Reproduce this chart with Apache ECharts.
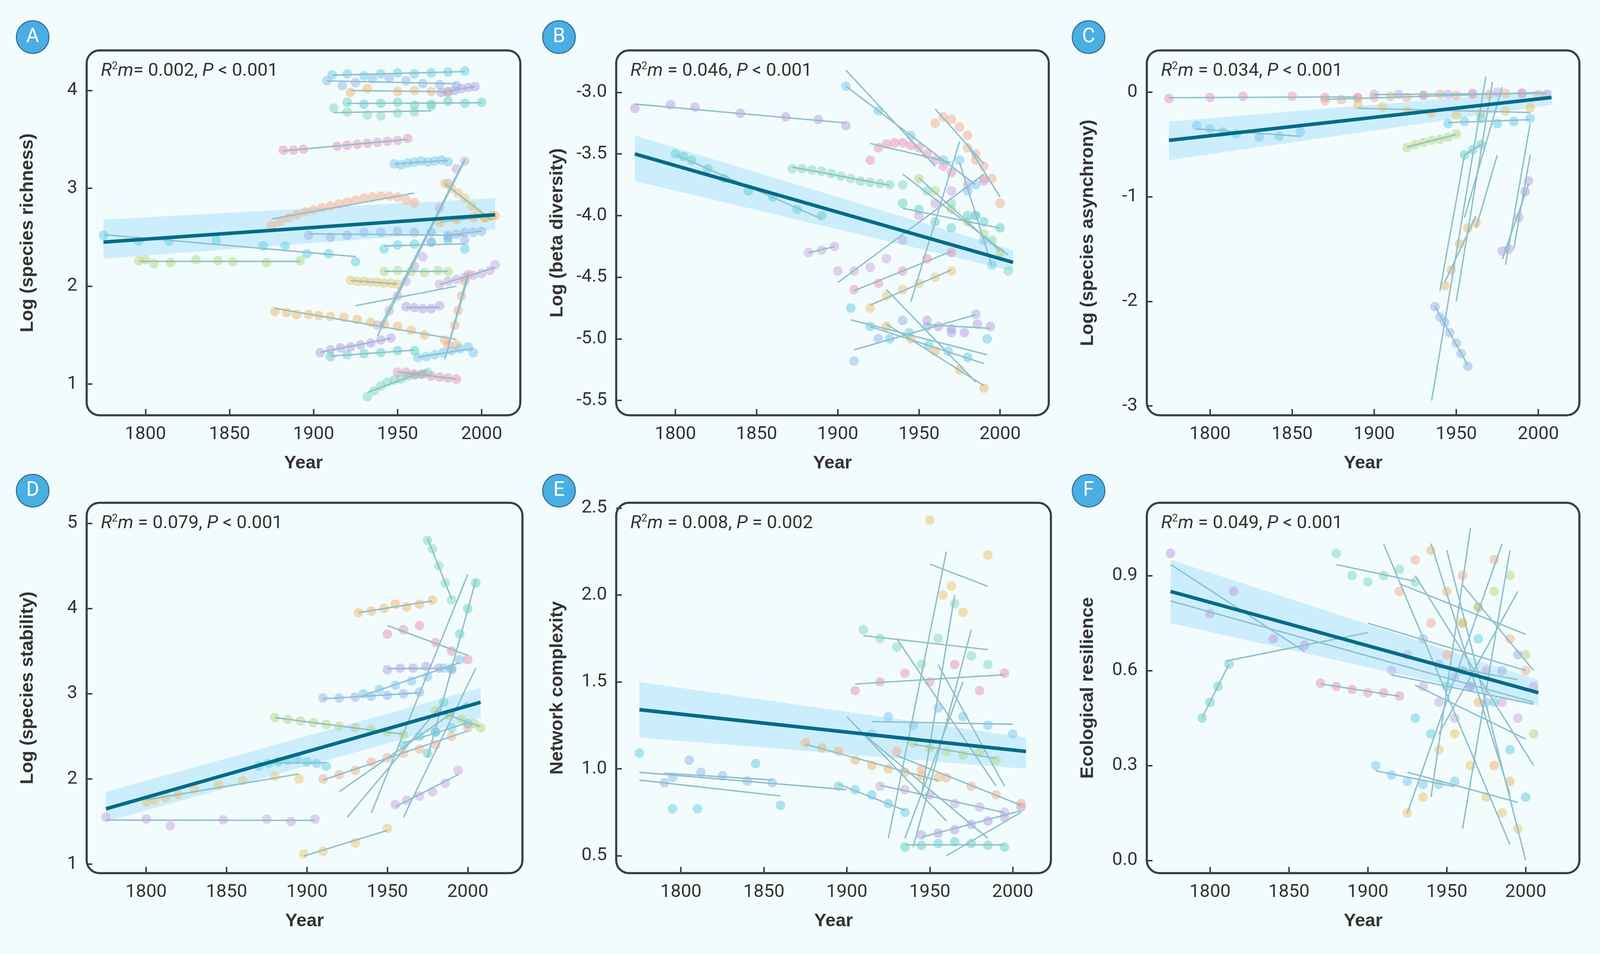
<!DOCTYPE html>
<html><head><meta charset="utf-8">
<script src="https://cdn.jsdelivr.net/npm/echarts@6/dist/echarts.min.js"></script>
<style>html,body{margin:0;background:#f3fcfd;overflow:hidden}#main{width:100vw;height:100vh}</style>
</head><body><div id="main"></div>
<script>
// ---- data: groups are [years, values]; extra lines are [x1,y1,x2,y2]
var groupsA = [
  [[1911,1920,1930,1940,1950,1960,1970,1980,1990],[4.16,4.17,4.15,4.17,4.18,4.17,4.18,4.19,4.2]],
  [[1908,1917,1925,1935,1945,1955,1965,1975,1985],[4.1,4.05,4.08,4.12,4.13,4.1,4.07,4.06,4.05]],
  [[1922,1932,1950,1960,1970,1980],[3.98,4.02,3.99,4.0,3.99,3.98]],
  [[1976,1980,1984,1988,1992,1996],[3.98,3.99,4.0,4.02,4.03,4.04]],
  [[1920,1930,1940,1950,1960,1970,1980,1990,2000],[3.88,3.86,3.87,3.88,3.85,3.86,3.89,3.87,3.88]],
  [[1912,1920,1932,1940,1950,1960,1970],[3.82,3.78,3.75,3.74,3.77,3.78,3.84]],
  [[1882,1888,1894,1914,1920,1926,1932,1938,1944,1950,1956],[3.39,3.39,3.4,3.43,3.44,3.45,3.46,3.47,3.48,3.49,3.51]],
  [[1948,1952,1956,1960,1964,1968,1972,1976,1980],[3.25,3.24,3.26,3.27,3.28,3.27,3.28,3.29,3.27]],
  [[1875,1880,1885,1890,1895,1900,1905,1910,1915,1920,1925,1930,1935,1940,1945,1950,1955,1960],[2.62,2.66,2.7,2.73,2.76,2.78,2.8,2.82,2.84,2.86,2.88,2.9,2.91,2.92,2.92,2.91,2.88,2.85]],
  [[1938,1945,1950,1955,1960,1965,1970,1975,1980,1985,1990],[1.6,1.75,1.9,2.05,2.2,2.3,2.45,2.8,3.05,3.2,3.28]],
  [[1978,1982,1986,1990,1994,1998,2002,2006],[3.05,3.0,2.95,2.9,2.82,2.75,2.7,2.72]],
  [[1796,1800,1805,1815,1830,1843,1852,1872,1892],[2.26,2.27,2.23,2.24,2.27,2.26,2.25,2.24,2.26]],
  [[1775,1796,1814,1842,1870,1883,1896,1909,1925],[2.52,2.46,2.46,2.47,2.41,2.41,2.33,2.33,2.25]],
  [[1897,1910,1920,1930,1940,1950,1960,1970,1980,1990],[2.52,2.5,2.52,2.55,2.55,2.56,2.55,2.55,2.5,2.47]],
  [[1877,1884,1890,1897,1903,1910,1918,1926,1934,1942,1950,1958,1966,1978,1985],[1.74,1.73,1.71,1.71,1.7,1.69,1.68,1.66,1.63,1.61,1.59,1.55,1.5,1.45,1.4]],
  [[1904,1910,1916,1922,1928,1934,1940,1946],[1.32,1.35,1.37,1.38,1.4,1.42,1.45,1.47]],
  [[1910,1920,1930,1940,1950,1960],[1.28,1.3,1.31,1.32,1.34,1.34]],
  [[1932,1936,1940,1944,1948,1952,1956,1960,1964,1968],[0.87,0.93,0.98,1.02,1.04,1.05,1.08,1.09,1.1,1.12]],
  [[1950,1955,1960,1965,1970,1975,1980,1985],[1.12,1.12,1.1,1.1,1.08,1.07,1.06,1.05]],
  [[1962,1967,1972,1977,1982,1987,1992,1995],[1.27,1.28,1.3,1.32,1.34,1.36,1.38,1.32]],
  [[1980,1984,1986,1988,1990,1992],[1.4,1.6,1.75,1.9,2.05,2.12]],
  [[1975,1980,1985,1990,1995,2000,2005,2008],[2.02,2.05,2.07,2.09,2.11,2.13,2.16,2.22]],
  [[1922,1926,1930,1934,1938,1942,1946,1950],[2.06,2.05,2.05,2.04,2.04,2.03,2.03,2.02]],
  [[1942,1950,1958,1966,1974,1980],[2.15,2.16,2.15,2.14,2.16,2.15]],
  [[1942,1950,1960,1970,1980,1990],[2.38,2.42,2.43,2.45,2.47,2.38]],
  [[1980,1985,1990,1995,2000],[2.52,2.53,2.55,2.55,2.56]],
  [[1975,1985,1995,2002,2008],[2.65,2.68,2.7,2.7,2.72]],
  [[1955,1960,1965,1970,1975],[1.79,1.78,1.77,1.77,1.8]]
];
var extraA = [[1978,1.25,1992,2.1],[1940,1.6,1990,3.3],[1925,1.8,1985,2.0]];
var trendA = [[1775,2.45],[2008,2.73]];
var bandA = [[1775,2.28,2.68],[2008,2.58,2.9]];

var groupsB = [
  [[1775,1797,1812,1840,1868,1888,1905],[-3.13,-3.1,-3.12,-3.17,-3.2,-3.22,-3.27]],
  [[1800,1805,1810,1820,1830,1845,1860,1875,1890],[-3.5,-3.52,-3.55,-3.62,-3.7,-3.8,-3.85,-3.95,-4.0]],
  [[1872,1878,1884,1890,1896,1902,1908,1914,1920,1926,1932],[-3.62,-3.62,-3.63,-3.64,-3.66,-3.68,-3.7,-3.72,-3.73,-3.74,-3.75]],
  [[1920,1925,1930,1935,1940,1945,1950,1955,1960,1965,1970],[-3.55,-3.45,-3.42,-3.41,-3.41,-3.43,-3.45,-3.5,-3.55,-3.6,-3.65]],
  [[1905,1925,1945,1965,1985],[-2.95,-3.15,-3.35,-3.55,-3.75]],
  [[1960,1965,1970,1975,1980,1985,1990],[-3.25,-3.2,-3.22,-3.28,-3.35,-3.5,-3.7]],
  [[1900,1910,1920,1930,1940,1950,1960,1970,1980,1990],[-4.45,-4.45,-4.42,-4.35,-4.2,-4.0,-3.9,-3.8,-3.75,-3.72]],
  [[1920,1930,1940,1950,1960,1970],[-4.75,-4.65,-4.6,-4.55,-4.5,-4.45]],
  [[1950,1960,1970,1980,1990,2000],[-3.7,-3.8,-3.95,-4.05,-4.15,-4.3]],
  [[1908,1920,1932,1944,1956,1968,1980,1992],[-4.75,-4.9,-5.0,-4.95,-5.05,-5.1,-5.15,-5.0]],
  [[1910,1925,1940,1955,1970,1985],[-5.18,-5.0,-4.85,-4.9,-4.95,-4.8]],
  [[1930,1945,1960,1975,1990],[-4.9,-5.0,-5.1,-5.25,-5.4]],
  [[1955,1962,1970,1978,1986,1994],[-4.85,-4.9,-4.92,-4.95,-4.88,-4.9]],
  [[1940,1950,1960,1970,1980,1990,2000],[-3.9,-3.95,-4.05,-4.1,-4.0,-4.05,-4.1]],
  [[1940,1955,1970,1985,1995,2005],[-3.75,-3.8,-3.9,-4.0,-4.2,-4.45]],
  [[1910,1925,1940,1955,1970],[-4.6,-4.55,-4.45,-4.35,-4.3]],
  [[1975,1980,1985,1990,1995],[-3.55,-3.8,-4.0,-4.2,-4.4]],
  [[1980,1985,1990,1995,2000],[-3.45,-3.55,-3.6,-3.7,-3.9]],
  [[1882,1890,1898],[-4.3,-4.28,-4.25]]
];
var extraB = [[1905,-2.82,1960,-3.6],[1930,-4.6,1985,-5.35],[1920,-4.9,1990,-5.2],[1945,-4.7,1975,-3.4]];
var trendB = [[1775,-3.5],[2008,-4.38]];
var bandB = [[1775,-3.72,-3.35],[2008,-4.45,-4.28]];

var groupsC = [
  [[1775,1800,1820,1850,1870,1890],[-0.06,-0.05,-0.04,-0.04,-0.05,-0.05]],
  [[1792,1800,1808,1816,1830,1842,1855],[-0.32,-0.35,-0.38,-0.4,-0.43,-0.42,-0.38]],
  [[1870,1880,1890,1900,1910,1920,1930,1940,1950,1960,1970,1980,1990,2000],[-0.08,-0.07,-0.06,-0.05,-0.04,-0.05,-0.03,-0.02,-0.03,-0.02,-0.02,-0.01,-0.01,-0.02]],
  [[1900,1915,1930,1945,1960,1975,1990,2005],[-0.02,-0.02,-0.03,-0.02,-0.01,0.0,-0.01,-0.02]],
  [[1890,1905,1920,1935,1950,1965,1980,1995],[-0.12,-0.14,-0.18,-0.2,-0.22,-0.2,-0.18,-0.15]],
  [[1920,1925,1930,1935,1940,1945,1950],[-0.53,-0.5,-0.48,-0.46,-0.45,-0.43,-0.4]],
  [[1945,1955,1965,1975,1985,1995],[-0.3,-0.28,-0.25,-0.3,-0.28,-0.25]],
  [[1937,1940,1943,1946,1950,1953,1957],[-2.05,-2.15,-2.2,-2.3,-2.4,-2.5,-2.62]],
  [[1943,1947,1952,1957,1962],[-1.85,-1.7,-1.45,-1.3,-1.25]],
  [[1978,1982,1988,1992,1994],[-1.52,-1.5,-1.2,-0.95,-0.85]],
  [[1955,1960,1965],[-0.6,-0.55,-0.5]]
];
var extraC = [[1935,-2.95,1968,0.15],[1950,-2.0,1972,0.1],[1955,-1.2,1978,0.05],[1962,-1.3,1975,-0.6],[1980,-1.65,1995,-0.3],[1985,-1.5,1995,-0.6],[1940,-1.9,1955,-0.6]];
var trendC = [[1775,-0.46],[2008,-0.05]];
var bandC = [[1775,-0.65,-0.28],[2008,-0.12,0.02]];

var groupsD = [
  [[1775,1800,1815,1848,1875,1890,1905],[1.55,1.53,1.45,1.52,1.53,1.5,1.53]],
  [[1800,1805,1812,1820,1830,1845,1860,1880,1895],[1.73,1.75,1.78,1.82,1.88,1.93,1.98,2.03,2.0]],
  [[1880,1888,1896,1904,1912,1920,1930,1940,1950,1960],[2.72,2.7,2.68,2.66,2.64,2.62,2.6,2.58,2.55,2.52]],
  [[1870,1876,1882,1888,1894,1900,1906,1912],[2.15,2.18,2.2,2.22,2.23,2.2,2.18,2.15]],
  [[1910,1920,1930,1940,1950,1960,1970],[2.95,2.95,2.96,2.97,2.98,3.0,3.02]],
  [[1932,1940,1948,1955,1962,1970,1978],[3.95,3.97,4.0,4.05,4.02,4.05,4.1]],
  [[1950,1958,1966,1974,1982,1990],[3.28,3.3,3.3,3.32,3.3,3.28]],
  [[1975,1980,1985,1990,1995,2000,2005],[2.3,2.55,2.9,3.3,3.7,4.0,4.3]],
  [[1975,1978,1982,1986,1990],[4.8,4.7,4.5,4.3,4.1]],
  [[1950,1960,1970,1980,1990,2000],[3.7,3.75,3.8,3.6,3.5,3.4]],
  [[1935,1945,1955,1965,1975,1985,1995],[3.0,3.05,3.1,3.15,3.2,3.3,3.4]],
  [[1910,1920,1930,1940,1950,1960,1970,1980,1990,2000],[2.0,2.05,2.1,2.2,2.25,2.3,2.35,2.4,2.5,2.6]],
  [[1955,1962,1970,1978,1986,1994],[1.7,1.75,1.8,1.85,1.95,2.1]],
  [[1898,1910,1930,1950],[1.12,1.15,1.25,1.42]],
  [[1980,1988,1996,2004,2008],[2.8,2.75,2.7,2.65,2.6]],
  [[1960,1970,1980,1990,2000],[2.4,2.5,2.55,2.6,2.65]]
];
var extraD = [[1940,1.6,2000,4.4],[1960,1.55,2005,3.3],[1925,1.55,1985,2.9],[1920,1.85,2000,2.9]];
var trendD = [[1775,1.65],[2008,2.9]];
var bandD = [[1775,1.5,1.85],[2008,2.72,3.07]];

var groupsE = [
  [[1775,1795,1810,1845,1860],[1.09,0.77,0.77,1.03,0.79]],
  [[1790,1795,1805,1812,1825,1840,1855],[0.92,0.95,1.05,0.98,0.96,0.93,0.92]],
  [[1875,1885,1895,1905,1915,1925,1935,1945,1955],[1.15,1.12,1.1,1.05,1.02,1.0,0.98,0.96,0.95]],
  [[1945,1955,1965,1975,1985,1995,2005],[0.62,0.63,0.65,0.68,0.7,0.72,0.78]],
  [[1935,1945,1955,1965,1975,1985,1995],[0.55,0.56,0.57,0.58,0.57,0.56,0.55]],
  [[1910,1920,1930,1945,1955,1965,1975,1985],[1.8,1.75,1.7,1.6,1.75,1.95,1.65,1.6]],
  [[1905,1920,1935,1950,1965,1980,1995],[1.45,1.5,1.55,1.5,1.6,1.45,1.55]],
  [[1915,1925,1940,1955,1970,1985,2000],[1.2,1.3,1.25,1.35,1.3,1.25,1.2]],
  [[1930,1945,1960,1975,1990,2005],[1.1,1.0,0.95,0.9,0.85,0.8]],
  [[1920,1935,1950,1965,1980,1995],[0.9,0.88,0.85,0.8,0.78,0.75]],
  [[1950,1958,1963,1970,1985],[2.43,2.0,2.05,1.9,2.23]],
  [[1940,1950,1960,1970,1980,1990],[1.15,1.12,1.1,1.08,1.1,1.05]],
  [[1895,1905,1915,1925,1935],[0.9,0.88,0.85,0.8,0.75]]
];
var extraE = [[1925,0.6,1960,2.25],[1940,0.55,1975,1.8],[1930,1.75,1990,0.9],[1945,0.85,1965,2.0],[1955,1.6,1995,0.9],[1910,1.2,1985,0.6],[1900,1.3,1960,0.7],[1775,0.98,1900,0.88],[1935,0.6,1970,1.5],[1960,0.5,2005,0.75]];
var trendE = [[1775,1.34],[2008,1.1]];
var bandE = [[1775,1.18,1.5],[2008,1.0,1.18]];

var groupsF = [
  [[1775,1800,1815,1840,1860],[0.97,0.78,0.85,0.7,0.68]],
  [[1795,1800,1805,1812],[0.45,0.5,0.55,0.62]],
  [[1880,1890,1900,1910,1920,1930],[0.97,0.9,0.88,0.9,0.92,0.88]],
  [[1870,1880,1890,1900,1910,1920],[0.56,0.55,0.54,0.53,0.53,0.52]],
  [[1905,1915,1925,1935,1945,1955],[0.3,0.27,0.25,0.24,0.24,0.25]],
  [[1920,1930,1940,1950,1960,1970,1980,1990,2000],[0.85,0.95,0.75,0.65,0.9,0.8,0.95,0.7,0.6]],
  [[1915,1925,1935,1945,1955,1965,1975,1985,1995,2005],[0.6,0.65,0.55,0.5,0.45,0.55,0.6,0.5,0.45,0.55]],
  [[1925,1935,1945,1955,1965,1975,1985,1995],[0.15,0.2,0.35,0.4,0.3,0.2,0.15,0.1]],
  [[1960,1970,1980,1990,2000,2005],[0.75,0.8,0.85,0.9,0.65,0.4]],
  [[1930,1940,1950,1960,1970,1980,1990,2000],[0.45,0.4,0.55,0.6,0.7,0.5,0.35,0.2]],
  [[1935,1945,1955,1965,1975,1985,1995],[0.7,0.62,0.58,0.55,0.5,0.6,0.65]],
  [[1940,1950,1960,1970,1980,1990],[0.98,0.85,0.75,0.5,0.3,0.25]]
];
var extraF = [[1775,0.82,2005,0.5],[1810,0.63,1900,0.72],[1910,1.0,1990,0.05],[1925,0.15,1985,1.0],[1940,0.2,1965,1.05],[1950,0.98,2000,0.0],[1930,0.9,2005,0.3],[1960,0.1,1990,0.98],[1900,0.75,2000,0.6],[1945,0.4,1995,0.85]];
var trendF = [[1775,0.85],[2008,0.53]];
var bandF = [[1775,0.75,0.95],[2008,0.49,0.57]];

var yTicks = {
  A: [1,2,3,4], B: [-5.5,-5,-4.5,-4,-3.5,-3], C: [-3,-2,-1,0],
  D: [1,2,3,4,5], E: [0.5,1,1.5,2,2.5], F: [0,0.3,0.6,0.9]
};
var xTicks = [1800,1850,1900,1950,2000];
var yNames = {A:'Log (species richness)',B:'Log (beta diversity)',C:'Log (species asynchrony)',
  D:'Log (species stability)',E:'Network complexity',F:'Ecological resilience'};
var stats = {A:['= 0.002, ','< 0.001'],B:[' = 0.046, ','< 0.001'],C:[' = 0.034, ','< 0.001'],
  D:[' = 0.079, ','< 0.001'],E:[' = 0.008, ','= 0.002'],F:[' = 0.049, ','< 0.001']};

// ---- layout (designed for 4505 x 2442, scaled to the real viewport)
var dom = document.getElementById('main');
var S = dom.clientWidth / 4505, SY = dom.clientHeight / 2442;
function sx(v){return v*S;} function sy(v){return v*SY;} function fs(v){return Math.round(v*S);}
var panels = [
  {k:'A',g:groupsA,ex:extraA,tr:trendA,bd:bandA,left:244,top:129,w:1221,h:934,x:[1765,2023],y:[0.68,4.41],dec:0},
  {k:'B',g:groupsB,ex:extraB,tr:trendB,bd:bandB,left:1735,top:129,w:1218,h:934,x:[1763.5,2030],y:[-5.62,-2.66],dec:1},
  {k:'C',g:groupsC,ex:extraC,tr:trendC,bd:bandC,left:3229,top:129,w:1218,h:934,x:[1761.5,2025],y:[-3.09,0.4],dec:0},
  {k:'D',g:groupsD,ex:extraD,tr:trendD,bd:bandD,left:244,top:1287,w:1227,h:948,x:[1763,2034],y:[0.895,5.24],dec:0},
  {k:'E',g:groupsE,ex:extraE,tr:trendE,bd:bandE,left:1735,top:1287,w:1224,h:948,x:[1761,2023],y:[0.4,2.53],dec:1},
  {k:'F',g:groupsF,ex:extraF,tr:trendF,bd:bandF,left:3229,top:1287,w:1218,h:948,x:[1760,2034],y:[-0.04,1.13],dec:1}
];
var palette = ['#5fcbe6','#7fd6b8','#e9c46a','#b99ae6','#f4a98a','#8fb4ea','#e98fb8','#b5d67a','#5fd0c8','#c9a4e0','#f2b463','#77c6ef'];
var lineCol = '#8fc0cb', tickFont = 'Roboto, sans-serif';

var grids=[],xAxes=[],yAxes=[],series=[],graphics=[];
function fit(xs,ys){
  var n=xs.length,mx=0,my=0,sxy=0,sxx=0,i;
  for(i=0;i<n;i++){mx+=xs[i];my+=ys[i];}
  mx/=n;my/=n;
  for(i=0;i<n;i++){sxy+=(xs[i]-mx)*(ys[i]-my);sxx+=(xs[i]-mx)*(xs[i]-mx);}
  var b=sxx?sxy/sxx:0;
  return [[xs[0],my+b*(xs[0]-mx)],[xs[n-1],my+b*(xs[n-1]-mx)]];
}
panels.forEach(function(p,i){
  grids.push({left:sx(p.left),top:sy(p.top),width:sx(p.w),height:sy(p.h)});
  xAxes.push({gridIndex:i,type:'value',position:'bottom',min:p.x[0],max:p.x[1],name:'Year',nameLocation:'middle',nameGap:sy(100),
    nameTextStyle:{fontSize:fs(52),fontWeight:'bold',color:'#333',fontFamily:'Liberation Sans'},
    axisLine:{show:false,onZero:false},splitLine:{show:false},
    axisTick:{show:true,inside:true,length:sy(16),lineStyle:{color:'#333',width:sx(4)},customValues:xTicks},
    axisLabel:{fontSize:fs(52),color:'#333',fontFamily:tickFont,margin:sy(26),customValues:xTicks,
      formatter:function(v){return String(v);}}});
  yAxes.push({gridIndex:i,type:'value',position:'left',min:p.y[0],max:p.y[1],name:yNames[p.k],nameLocation:'middle',nameGap:sx(140),
    nameTextStyle:{fontSize:fs(52),fontWeight:'bold',color:'#333',fontFamily:'Liberation Sans'},
    axisLine:{show:false,onZero:false},splitLine:{show:false},
    axisTick:{show:true,inside:true,length:sx(16),lineStyle:{color:'#333',width:sx(4)},customValues:yTicks[p.k]},
    axisLabel:{fontSize:fs(52),color:'#333',fontFamily:tickFont,margin:sx(26),customValues:yTicks[p.k],
      formatter:function(v){return v.toFixed(p.dec);}}});
  series.push({type:'custom',xAxisIndex:i,yAxisIndex:i,z:1,silent:true,data:p.bd,
    renderItem:function(params,api){
      if(params.dataIndex!==0)return;
      var pts=[],j;
      for(j=0;j<p.bd.length;j++)pts.push(api.coord([p.bd[j][0],p.bd[j][2]]));
      for(j=p.bd.length-1;j>=0;j--)pts.push(api.coord([p.bd[j][0],p.bd[j][1]]));
      return {type:'polygon',shape:{points:pts},style:{fill:'#c4ebfb',opacity:0.85}};
    }});
  p.g.forEach(function(gr,j){
    series.push({type:'scatter',xAxisIndex:i,yAxisIndex:i,z:2,symbolSize:sx(27),
      itemStyle:{color:palette[(j*5+i*3)%palette.length],opacity:0.5},
      data:gr[0].map(function(x,m){return [x,gr[1][m]];})});
    series.push({type:'line',xAxisIndex:i,yAxisIndex:i,z:3,showSymbol:false,silent:true,
      lineStyle:{color:lineCol,width:sx(4)},data:fit(gr[0],gr[1])});
  });
  p.ex.forEach(function(e){
    series.push({type:'line',xAxisIndex:i,yAxisIndex:i,z:3,showSymbol:false,silent:true,
      lineStyle:{color:lineCol,width:sx(4)},data:[[e[0],e[1]],[e[2],e[3]]]});
  });
  series.push({type:'line',xAxisIndex:i,yAxisIndex:i,z:5,showSymbol:false,silent:true,
    lineStyle:{color:'#006b88',width:sx(10)},data:p.tr});
  graphics.push({type:'rect',z:10,shape:{x:sx(p.left),y:sy(p.top),width:sx(p.w),height:sy(p.h),r:sx(36)},silent:true,
    style:{fill:'none',stroke:'#3a3f42',lineWidth:sx(6)}});
  var bx=(p.left<500)?92:(p.left<2000?1574:3065), by=(p.top<500)?95:1256;
  graphics.push({type:'circle',z:10,shape:{cx:sx(bx),cy:sy(by),r:sx(46)},style:{fill:'#4aaee3',stroke:'#2f6f95',lineWidth:sx(3)}});
  graphics.push({type:'text',z:11,x:sx(bx),y:sy(by),style:{text:p.k,fill:'#fff',fontSize:fs(56),fontFamily:'Roboto',align:'center',verticalAlign:'middle'}});
  graphics.push({type:'text',z:11,left:sx(p.left+40),top:sy(p.top+28),style:{
    text:'{i|R}{s|2}{i|m}{n|'+stats[p.k][0]+'}{i|P}{n| '+stats[p.k][1]+'}',
    rich:{i:{fontSize:fs(52),fontStyle:'italic',fill:'#333',fontFamily:tickFont},
          n:{fontSize:fs(52),fill:'#333',fontFamily:tickFont},
          s:{fontSize:fs(30),fill:'#333',fontFamily:tickFont,verticalAlign:'top',padding:[0,0,fs(26),0]}}}});
});
var chart = echarts.init(dom);
chart.setOption({backgroundColor:'#f3fcfd',animation:false,grid:grids,xAxis:xAxes,yAxis:yAxes,series:series,graphic:graphics});
</script></body></html>
